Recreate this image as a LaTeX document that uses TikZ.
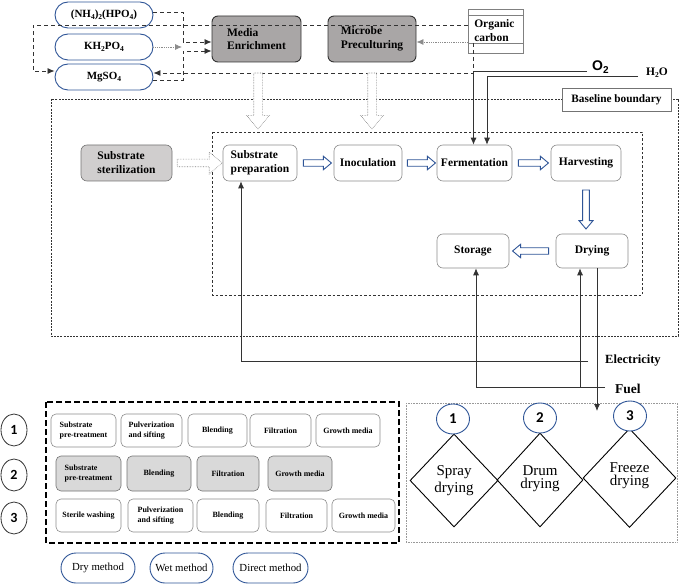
\documentclass[tikz,border=0pt]{standalone}
\usepackage{fontspec}
\setmainfont{Liberation Serif}
\newfontfamily\calib{Carlito}
\newfontfamily\arialf{Liberation Sans}
\usetikzlibrary{shapes.arrows,shapes.geometric,arrows.meta}
\newcommand\mysub[1]{\raisebox{-0.35ex}{\fontsize{7.5}{7.5}\selectfont #1}}
\definecolor{pblue}{HTML}{2F5597}
\definecolor{boxgray}{HTML}{A9A6A6}
\definecolor{lgray}{HTML}{D0CECE}
\definecolor{tgray}{HTML}{D9D9D9}
\begin{document}
\begin{tikzpicture}[x=1pt,y=-1pt,
  pill/.style={draw=pblue, line width=0.9pt, rounded corners=13pt, fill=white, inner sep=0pt, minimum width=98pt, minimum height=26pt, font=\bfseries\fontsize{11}{12}\selectfont},
  gbox/.style={draw=black!80, line width=0.9pt, rounded corners=6pt, fill=boxgray, inner sep=0pt, minimum height=46pt, align=left, font=\bfseries\fontsize{11.5}{13.5}\selectfont},
  proc/.style={draw=black!45, line width=0.6pt, rounded corners=6pt, fill=white, inner sep=0pt, align=left, font=\bfseries\fontsize{11.5}{14}\selectfont},
  tb/.style={draw=black!45, line width=0.6pt, rounded corners=5pt, fill=white, inner sep=0pt, align=left, font=\bfseries\fontsize{8}{10}\selectfont},
  tbg/.style={tb, fill=tgray, draw=black!55},
  lpill/.style={draw=pblue, line width=0.9pt, rounded corners=15pt, fill=white, inner sep=0pt, minimum height=30pt, font=\fontsize{10.8}{12}\selectfont},
  numel/.style={ellipse, draw=black!80, line width=0.8pt, inner sep=0pt, minimum width=26pt, minimum height=32pt, font=\calib\bfseries\fontsize{14}{14}\selectfont},
  numc/.style={ellipse, draw=pblue, line width=0.9pt, fill=white, inner sep=0pt, minimum width=33pt, minimum height=30pt, font=\calib\bfseries\fontsize{15}{15}\selectfont},
  dia/.style={diamond, draw=black, line width=0.9pt, inner sep=0pt, align=center, font=\fontsize{15}{17}\selectfont},
  barrow/.style={single arrow, draw=pblue, line width=0.9pt, fill=white, inner sep=2.8pt, minimum width=12pt, single arrow head extend=3.5pt, single arrow tip angle=80, sloped, allow upside down},
  garrow/.style={single arrow, draw=black!50, densely dotted, line width=0.6pt, fill=white, inner sep=4pt, single arrow tip angle=80, sloped, allow upside down},
  dsh/.style={draw=black!80, line width=0.8pt, dash pattern=on 4pt off 3pt},
  dotg/.style={draw=black!45, line width=0.8pt, densely dotted},
  ln/.style={draw=black!80, line width=0.8pt},
  tip/.style={-{Latex[length=7pt,width=6pt]}}
]
\useasboundingbox (0,0) rectangle (685,585);

% outer and inner boundaries
\draw[draw=black!80, line width=0.9pt, dash pattern=on 2pt off 1.2pt] (51,99) rectangle (678,336);
\draw[draw=black!80, line width=0.7pt, dash pattern=on 2.5pt off 2pt] (212,132) rectangle (642,295);
\node[draw=black!55, line width=0.6pt, fill=white, minimum width=109pt, minimum height=23pt, inner sep=0pt, font=\bfseries\fontsize{11.3}{12}\selectfont] (bb) at (616.5,99.5) {Baseline boundary};

% top pills
\node[pill] (nh) at (104,15) {(NH\mysub{4})\mysub{2}(HPO\mysub{4})};
\node[pill] (kh) at (104,47) {KH\mysub{2}PO\mysub{4}};
\node[pill] (mg) at (104,77) {MgSO\mysub{4}};

% gray boxes
\node[gbox, minimum width=89pt] (me) at (256.5,39) {Media\\Enrichment};
\node[gbox, minimum width=88pt] (mp) at (372,39) {Microbe\\Preculturing};

% organic carbon
\node[draw=black!50, line width=0.6pt, minimum width=55pt, minimum height=44pt, inner sep=0pt, align=left, font=\bfseries\fontsize{11.5}{14}\selectfont] (oc) at (495.5,31) {Organic\\carbon\hspace*{8pt}};
\draw[draw=black!50, line width=0.6pt] ([yshift=-7pt]oc.north west) -- ([yshift=-7pt]oc.north east);
\draw[draw=black!50, line width=0.6pt] ([yshift=10pt]oc.south west) -- ([yshift=10pt]oc.south east);
\coordinate (ocl) at (473,43);
\coordinate (kht) at (182,47);

% dashed feed lines
\draw[dsh, tip] ([yshift=3pt]nh.east) -| (183,42) -- ([yshift=-3pt]me.west);
\draw[dotg, tip] (kh.east) -- (kht);
\draw[dsh, tip] ([yshift=-3pt]mg.east) -| (183,51) -- ([yshift=-12pt]me.west);
\draw[dsh, tip] ([yshift=6pt]oc.west) -- (33,25) |- ([yshift=6pt]mg.west);
\draw[dsh, tip] (ocl) -- (473,73) -- ([yshift=4pt]mg.east);
\draw[dotg, tip] ([yshift=-11pt]oc.west) -- ([yshift=-3pt]mp.east);

% process nodes
\node[proc, fill=lgray, draw=black!55, minimum width=91pt, minimum height=36pt] (ss) at (126.5,163) {Substrate\\sterilization};
\node[proc, minimum width=74pt, minimum height=36pt] (sp) at (260,163) {Substrate\\preparation};
\node[proc, minimum width=68pt, minimum height=36pt] (in) at (368,163) {Inoculation};
\node[proc, minimum width=75pt, minimum height=36pt] (fe) at (474.5,163) {Fermentation};
\node[proc, minimum width=70pt, minimum height=36pt] (ha) at (586,163) {Harvesting};
\node[proc, minimum width=72pt, minimum height=34pt] (st) at (473,251) {Storage};
\node[proc, minimum width=72pt, minimum height=34pt] (dr) at (592,251) {Drying};

% block arrows
\path (sp.east) -- node[barrow, minimum height=28pt]{} (in.west);
\path (in.east) -- node[barrow, minimum height=28pt]{} (fe.west);
\path (fe.east) -- node[barrow, minimum height=30pt]{} (ha.west);
\path (ha.south) -- node[barrow, minimum height=39pt, minimum width=14pt]{} (ha.south |- dr.north);
\path (dr.west) -- node[barrow, minimum height=36pt]{} (st.east);
\path (ss.east) -- node[garrow, minimum height=45pt, minimum width=13pt, inner sep=3.5pt]{} (sp.west);
\path ([xshift=1.5pt,yshift=-8pt]me.south) -- node[garrow, minimum height=56pt, minimum width=17pt]{} ([xshift=1.5pt,yshift=-64pt]me.south);
\path ([yshift=-8pt]mp.south) -- node[garrow, minimum height=56pt, minimum width=17pt]{} ([yshift=-64pt]mp.south);

% O2 and H2O
\node[anchor=west, inner sep=0pt, font=\arialf\bfseries\fontsize{14}{14}\selectfont] (o2) at (592,67) {O\raisebox{-0.35ex}{\fontsize{10}{10}\selectfont 2}};
\node[anchor=west, inner sep=0pt, font=\bfseries\fontsize{11.5}{12}\selectfont] (h2o) at (646,73) {H\mysub{2}O};
\coordinate (o2e) at (587,71);
\coordinate (h2e) at (638,76);
\draw[ln, tip] (o2e) -| ([xshift=-1pt]fe.north);
\draw[ln, tip] (h2e) -| ([xshift=12.5pt]fe.north);

% electricity and fuel
\node[anchor=west, inner sep=0pt, font=\bfseries\fontsize{12.5}{13}\selectfont] (el) at (605,361) {Electricity};
\node[anchor=west, inner sep=0pt, font=\bfseries\fontsize{13.5}{14}\selectfont] (fu) at (615,389) {Fuel};
\coordinate (ele) at (588,361);
\coordinate (fue) at (605,387);
\draw[ln, tip] (ele) -| ([xshift=-19pt]sp.south);
\draw[ln, tip] (fue) -| ([xshift=3pt]st.south);
\draw[ln, tip] (580,387) -- ([xshift=-12pt]dr.south);

% drying methods box
\draw[draw=black!40, line width=0.6pt, densely dotted] (406,403) rectangle (677,542);
\coordinate (dmt) at (597,411);
\draw[ln, tip] ([xshift=5pt]dr.south) -- (dmt);
\node[dia, minimum width=88pt, minimum height=93pt] (d1) at (454,480.5) {Spray\\drying};
\node[dia, minimum width=86pt, minimum height=94pt] (d2) at (540,480) {\raisebox{6pt}{\shortstack{Drum\\drying}}};
\node[dia, minimum width=93pt, minimum height=99pt] (d3) at (629.5,478) {\raisebox{8pt}{\shortstack{Freeze\\drying}}};
\node[numc] (c1) at (453,419) {1};
\node[numc] (c2) at (540,418) {2};
\node[numc] (c3) at (630,416) {3};

% media preparation table
\draw[draw=black, line width=1.2pt, dash pattern=on 6pt off 3pt] (46,402) rectangle (399,543);
\node[numel] (n1) at (14,430) {1};
\node[numel] (n2) at (14,475) {2};
\node[numel] (n3) at (14,518) {3};

\node[tb, minimum width=65pt, minimum height=33pt] (a1) at (83.5,430.5) {Substrate\\pre-treatment};
\node[tb, minimum width=61pt, minimum height=33pt] (a2) at (151.5,430.5) {Pulverization\\and sifting};
\node[tb, minimum width=59pt, minimum height=33pt] (a3) at (217.5,430.5) {Blending};
\node[tb, minimum width=61pt, minimum height=33pt] (a4) at (280.5,430.5) {Filtration};
\node[tb, minimum width=64pt, minimum height=33pt] (a5) at (348,430.5) {Growth media};

\node[tbg, minimum width=65pt, minimum height=35pt] (b1) at (88.5,473.5) {Substrate\\pre-treatment};
\node[tbg, minimum width=64pt, minimum height=35pt] (b2) at (159,473.5) {Blending};
\node[tbg, minimum width=62pt, minimum height=35pt] (b3) at (228,473.5) {Filtration};
\node[tbg, minimum width=64pt, minimum height=35pt] (b4) at (300,473.5) {Growth media};

\node[tb, minimum width=65pt, minimum height=33pt] (c1t) at (88.5,515.5) {Sterile washing};
\node[tb, minimum width=65pt, minimum height=33pt] (c2t) at (160.5,515.5) {Pulverization\\and sifting};
\node[tb, minimum width=62pt, minimum height=33pt] (c3t) at (228,515.5) {Blending};
\node[tb, minimum width=61pt, minimum height=33pt] (c4t) at (296.5,515.5) {Filtration};
\node[tb, minimum width=63pt, minimum height=33pt] (c5t) at (363.5,515.5) {Growth media};

% legend
\node[lpill, minimum width=74pt] (l1) at (98,568) {Dry method};
\node[lpill, minimum width=63pt] (l2) at (181.5,568) {Wet method};
\node[lpill, minimum width=75pt] (l3) at (270.5,568) {Direct method};
\end{tikzpicture}
\end{document}
